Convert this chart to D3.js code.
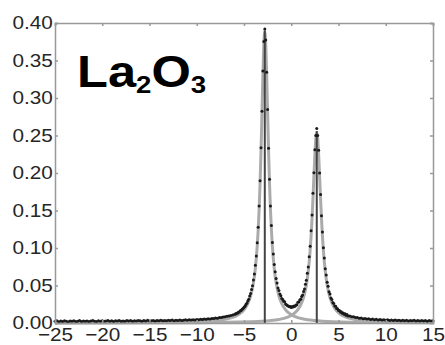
<!DOCTYPE html>
<html>
<head>
<meta charset="utf-8">
<script src="https://cdn.jsdelivr.net/npm/d3@7"></script>
<style>
  body { margin: 0; background: #fff; }
  .axis text { font-family: "Liberation Sans", Arial, sans-serif; font-size: 18.5px; fill: #262626; }
  .axis path, .axis line { stroke: #999; stroke-width: 1.5; }
</style>
</head>
<body>
<script>
// Data //////////////////////////////////////

var xTicks = [-25, -20, -15, -10, -5, 0, 5, 10, 15];
var yTicks = [0, 0.05, 0.10, 0.15, 0.20, 0.25, 0.30, 0.35, 0.40];

// measured points, left tail: x from -25 to -6.2, every 0.2
var leftStart = -25, leftStep = 0.2;
var leftTail = [
  .0022,.0031,.0018,.0026,.0021,.0029,.0024,.0017,.0027,.0023,
  .0030,.0020,.0025,.0032,.0019,.0026,.0023,.0028,.0021,.0027,
  .0033,.0024,.0020,.0029,.0025,.0031,.0022,.0027,.0034,.0024,
  .0029,.0021,.0030,.0026,.0033,.0025,.0028,.0023,.0032,.0027,
  .0035,.0024,.0030,.0027,.0034,.0029,.0025,.0033,.0028,.0036,
  .0027,.0031,.0035,.0028,.0033,.0030,.0037,.0031,.0034,.0029,
  .0036,.0033,.0039,.0031,.0036,.0034,.0040,.0035,.0038,.0042,
  .0036,.0043,.0039,.0045,.0041,.0047,.0044,.0050,.0046,.0053,
  .0049,.0056,.0054,.0061,.0059,.0066,.0064,.0072,.0073,.0080,
  .0082,.0090,.0093,.0100,.0106
];

// measured points, peak region: x from -6.0 to 6.0, every 0.1
var midStart = -6, midStep = 0.1;
var midPart = [
  .0116,.0119,.0129,.0131,.0144,.0148,.0162,.0168,.0185,.0193,
  .0211,.0224,.0248,.0264,.0295,.0318,.0360,.0392,.0447,.0498,
  .0575,.0654,.0770,.0894,.1070,.1276,.1560,.1896,.2338,.2825,
  .3360,.3755,.3920,.3772,.3345,.2846,.2331,.1918,.1560,.1300,
  .1075,.0920,.0779,.0685,.0592,.0533,.0468,.0432,.0386,.0364,
  .0328,.0315,.0289,.0282,.0252,.0244,.0231,.0228,.0216,.0219,
  .0208,.0219,.0212,.0226,.0224,.0240,.0245,.0277,.0280,.0308,
  .0318,.0353,.0372,.0420,.0452,.0518,.0570,.0663,.0748,.0885,
  .1022,.1230,.1440,.1730,.2005,.2310,.2500,.2595,.2500,.2305,
  .2000,.1715,.1430,.1215,.1005,.0868,.0725,.0640,.0543,.0490,
  .0418,.0386,.0332,.0313,.0272,.0260,.0227,.0222,.0192,.0191,
  .0166,.0168,.0146,.0149,.0130,.0134,.0116,.0122,.0104,.0112,
  .0095
];

// measured points, right tail: x from 6.2 to 15, every 0.2
var rightStart = 6.2, rightStep = 0.2;
var rightTail = [
  .0094,.0083,.0082,.0072,.0073,.0063,.0066,.0056,.0061,.0052,
  .0057,.0047,.0053,.0045,.0050,.0041,.0047,.0039,.0045,.0037,
  .0043,.0035,.0040,.0033,.0041,.0032,.0037,.0030,.0038,.0031,
  .0036,.0028,.0034,.0029,.0037,.0027,.0033,.0026,.0035,.0028,
  .0032,.0025,.0034,.0027,.0030
];

// fitted components (grey)
var fit1X = [-25,-15,-10,-8,-7,-6,-5.5,-5,-4.6,-4.3,-4,-3.8,-3.6,-3.5,-3.4,-3.3,-3.2,-3.1,-3,-2.9,-2.8,
             -2.7,-2.6,-2.5,-2.4,-2.3,-2.2,-2.1,-2,-1.8,-1.6,-1.3,-1,-0.6,-0.1,0.4,1.4,2.4,4.4,9.4,15];
var fit1Y = [.0002,.0006,.0017,.0033,.005,.0085,.0119,.0176,.0258,.036,.0535,.0727,.1027,.124,.1514,.1861,.229,.279,.3306,.3719,.388,
             .3719,.3306,.279,.229,.1861,.1514,.124,.1027,.0727,.0535,.036,.0258,.0176,.0119,.0085,.005,.0033,.0017,.0006,.0003];
var fit2X = [-25,-10,-4.3,-2.3,-1.3,-0.3,0.2,0.7,1.0,1.3,1.5,1.7,1.9,2.0,2.1,2.2,2.3,2.4,2.5,2.6,2.7,
             2.8,2.9,3.0,3.1,3.2,3.3,3.4,3.5,3.7,3.9,4.1,4.4,4.7,5.2,5.7,6.7,7.7,9.7,15];
var fit2Y = [.0001,.0005,.0016,.003,.0047,.0083,.0117,.0179,.0241,.034,.0441,.059,.0815,.0969,.116,.1391,.1661,.1958,.2243,.2459,.254,
             .2459,.2243,.1958,.1661,.1391,.116,.0969,.0815,.059,.0441,.034,.0241,.0179,.0117,.0083,.0047,.003,.0016,.0005];

// peak positions (dark sticks)
var peakPos = [-2.8, 2.7];
var peakHeight = [0.39, 0.256];

// SVG setup //////////////////////////////////////////////////////

var margin = {top: 23, right: 12, bottom: 22, left: 55};
var width = 445 - margin.left - margin.right;
var height = 345 - margin.top - margin.bottom;

var svg = d3.select("body")
  .append("svg")
    .attr("width", 445)
    .attr("height", 345)
  .append("g")
    .attr("transform", "translate(" + margin.left + "," + margin.top + ")");

var xScale = d3.scaleLinear().domain([-25, 15]).range([0, width]);
var yScale = d3.scaleLinear().domain([0, 0.40]).range([height, 0]);

// put the measured segments together
var points = [];
leftTail.forEach(function(y, i) { points.push([leftStart + i * leftStep, y]); });
midPart.forEach(function(y, i) { points.push([midStart + i * midStep, y]); });
rightTail.forEach(function(y, i) { points.push([rightStart + i * rightStep, y]); });

var line = d3.line()
  .x(function(d) { return xScale(d[0]); })
  .y(function(d) { return yScale(d[1]); })
  .curve(d3.curveMonotoneX);

// grey fit curves
[[fit1X, fit1Y], [fit2X, fit2Y]].forEach(function(f) {
  svg.append("path")
    .datum(d3.zip(f[0], f[1]))
    .attr("d", line)
    .attr("fill", "none")
    .attr("stroke", "#ababab")
    .attr("stroke-width", 3);
});

// sticks at the peak positions
svg.selectAll(".stick")
  .data(peakPos)
  .enter().append("line")
    .attr("class", "stick")
    .attr("x1", function(d) { return xScale(d); })
    .attr("x2", function(d) { return xScale(d); })
    .attr("y1", yScale(0))
    .attr("y2", function(d, i) { return yScale(peakHeight[i]); })
    .attr("stroke", "#444")
    .attr("stroke-width", 2);

// measured dots
svg.selectAll(".dot")
  .data(points)
  .enter().append("circle")
    .attr("class", "dot")
    .attr("cx", function(d) { return xScale(d[0]); })
    .attr("cy", function(d) { return yScale(d[1]); })
    .attr("r", 1.5)
    .attr("fill", "#1a1a1a");

// axes (ticks point inwards, box all round)
var xAxis = d3.axisBottom(xScale).tickValues(xTicks).tickSize(-3).tickFormat(d3.format("d"));
var yAxis = d3.axisLeft(yScale).tickValues(yTicks).tickSize(-3).tickFormat(d3.format(".2f"));

svg.append("g").attr("class", "axis").call(d3.axisTop(xScale).tickValues(xTicks).tickSize(-3).tickFormat(""));
svg.append("g").attr("class", "axis").attr("transform", "translate(" + width + ",0)")
  .call(d3.axisRight(yScale).tickValues(yTicks).tickSize(-3).tickFormat(""));

var gx = svg.append("g")
  .attr("class", "axis")
  .attr("transform", "translate(0," + height + ")")
  .call(xAxis);
gx.selectAll("text")
  .attr("y", 18)
  .attr("dy", 0)
  .attr("transform", "scale(1.12,1)");

var gy = svg.append("g")
  .attr("class", "axis")
  .call(yAxis);
gy.selectAll("text")
  .attr("x", -2)
  .attr("dy", "0.32em")
  .attr("transform", "scale(1.12,1)");

// label
var title = svg.append("text")
  .attr("transform", "translate(" + (77 - margin.left) + "," + (87 - margin.top) + ") scale(1.15,1)")
  .attr("font-family", "'Liberation Sans', Arial, sans-serif")
  .attr("font-weight", "bold")
  .attr("font-size", 44)
  .attr("fill", "#000");
title.append("tspan").text("La");
title.append("tspan").attr("font-size", 24).attr("dy", 6).text("2");
title.append("tspan").attr("dy", -6).text("O");
title.append("tspan").attr("font-size", 24).attr("dy", 6).text("3");
</script>
</body>
</html>
